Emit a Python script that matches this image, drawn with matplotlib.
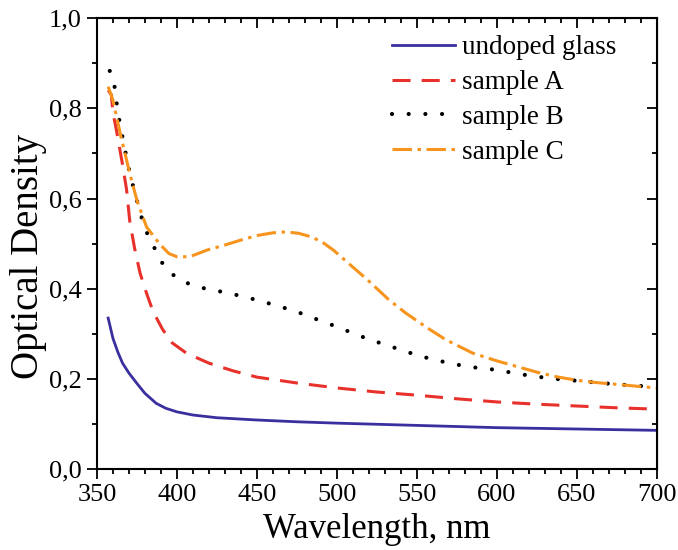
import matplotlib
matplotlib.use('Agg')
import matplotlib.pyplot as plt
from matplotlib.ticker import MultipleLocator, FuncFormatter

plt.rcParams['font.family'] = ['Liberation Serif', 'DejaVu Serif']
plt.rcParams['lines.scale_dashes'] = False

# undoped glass
wl_u = [357, 360, 363, 366, 370, 375, 380, 387, 393, 400, 410, 425, 450, 475,
        500, 550, 600, 650, 700]
od_u = [0.335, 0.29, 0.26, 0.235, 0.213, 0.19, 0.168, 0.146, 0.135, 0.127, 0.12,
        0.114, 0.109, 0.105, 0.102, 0.097, 0.092, 0.089, 0.086]

# sample A
wl_a = [357, 359, 360, 362, 364, 366, 368.5, 370.5, 373.5, 377, 381, 385, 391,
        397, 406, 420, 435, 450, 475, 500, 525, 550, 575, 600, 625, 650, 675, 700]
od_a = [0.84, 0.83, 0.79, 0.755, 0.715, 0.675, 0.62, 0.55, 0.49, 0.434, 0.39,
        0.35, 0.31, 0.28, 0.257, 0.235, 0.218, 0.204, 0.191, 0.18, 0.171, 0.164,
        0.156, 0.149, 0.144, 0.14, 0.136, 0.133]

# sample B
wl_b = [358, 361, 363, 366.5, 370.5, 373, 377, 379, 382, 386, 391, 399, 408,
        418, 430, 440, 450, 465, 478, 489, 502, 513, 525, 537, 549, 560, 572,
        582, 600, 612, 625, 637, 650, 662, 675, 687, 700]
od_b = [0.883, 0.848, 0.792, 0.726, 0.656, 0.622, 0.569, 0.545, 0.517, 0.49,
        0.456, 0.426, 0.41, 0.40, 0.392, 0.384, 0.375, 0.36, 0.345, 0.33, 0.313,
        0.297, 0.282, 0.268, 0.254, 0.243, 0.234, 0.227, 0.22, 0.212, 0.205,
        0.2, 0.196, 0.192, 0.188, 0.185, 0.182]

# sample C
wl_c = [357, 360, 365, 370.5, 375, 381, 389, 395, 400, 408, 419, 430, 440, 450,
        460, 468, 476, 484, 491, 498, 508, 519, 532, 543, 557, 568, 585, 600,
        612, 625, 637, 650, 662, 675, 687, 700]
od_c = [0.848, 0.818, 0.737, 0.656, 0.596, 0.537, 0.50, 0.478, 0.471, 0.471,
        0.486, 0.497, 0.508, 0.518, 0.524, 0.526, 0.523, 0.515, 0.503, 0.485,
        0.454, 0.42, 0.377, 0.346, 0.312, 0.287, 0.257, 0.24, 0.228, 0.215,
        0.205, 0.197, 0.192, 0.188, 0.184, 0.18]

fig = plt.figure(figsize=(6.78, 5.5), dpi=100)
ax = fig.add_axes([0.143, 0.147, 0.826, 0.82])

ax.plot(wl_u, od_u, color='#3a2f9e', lw=2.0, label='undoped glass')
ax.plot(wl_a, od_a, color='#e8312b', lw=2.2, dashes=(13, 8), label='sample A')
ax.plot(wl_b, od_b, color='black', lw=3.0, dashes=(0.01, 12),
        dash_capstyle='round', label='sample B')
ax.plot(wl_c, od_c, color='#f7941d', lw=2.2, dashes=(14, 4, 2.5, 4),
        label='sample C')

ax.set_xlim(350, 700)
ax.set_ylim(0, 1.0)
ax.xaxis.set_major_locator(MultipleLocator(50))
ax.xaxis.set_minor_locator(MultipleLocator(10))
ax.yaxis.set_major_locator(MultipleLocator(0.2))
ax.yaxis.set_minor_locator(MultipleLocator(0.1))
ax.yaxis.set_major_formatter(FuncFormatter(lambda v, p: ('%.1f' % v).replace('.', ',')))

for s in ax.spines.values():
    s.set_linewidth(1.5)
ax.tick_params(which='both', direction='out', width=1.3, labelsize=19, pad=4)
ax.tick_params(which='major', length=7)
ax.tick_params(which='minor', length=3.5)
ax2 = ax.secondary_xaxis('top')
ax2.xaxis.set_major_locator(MultipleLocator(50))
ax2.xaxis.set_minor_locator(MultipleLocator(10))
ax2.tick_params(which='both', direction='in', width=1.3, labeltop=False)
ax2.tick_params(which='major', length=7)
ax2.tick_params(which='minor', length=3.5)
ax3 = ax.secondary_yaxis('right')
ax3.yaxis.set_major_locator(MultipleLocator(0.2))
ax3.yaxis.set_minor_locator(MultipleLocator(0.1))
ax3.tick_params(which='both', direction='in', width=1.3, labelright=False)
ax3.tick_params(which='major', length=7)
ax3.tick_params(which='minor', length=3.5)

ax.set_xlabel('Wavelength, nm', fontsize=25, labelpad=5)
ax.set_ylabel('Optical Density', fontsize=28)
ax.yaxis.set_label_coords(-0.09, 0.472)

ax.legend(loc='upper left', bbox_to_anchor=(0.527, 0.962), frameon=False,
          fontsize=19.5, handlelength=2.33, handletextpad=0.26,
          labelspacing=0.36, borderpad=0, borderaxespad=0)

fig.savefig('out.png', dpi=100)
